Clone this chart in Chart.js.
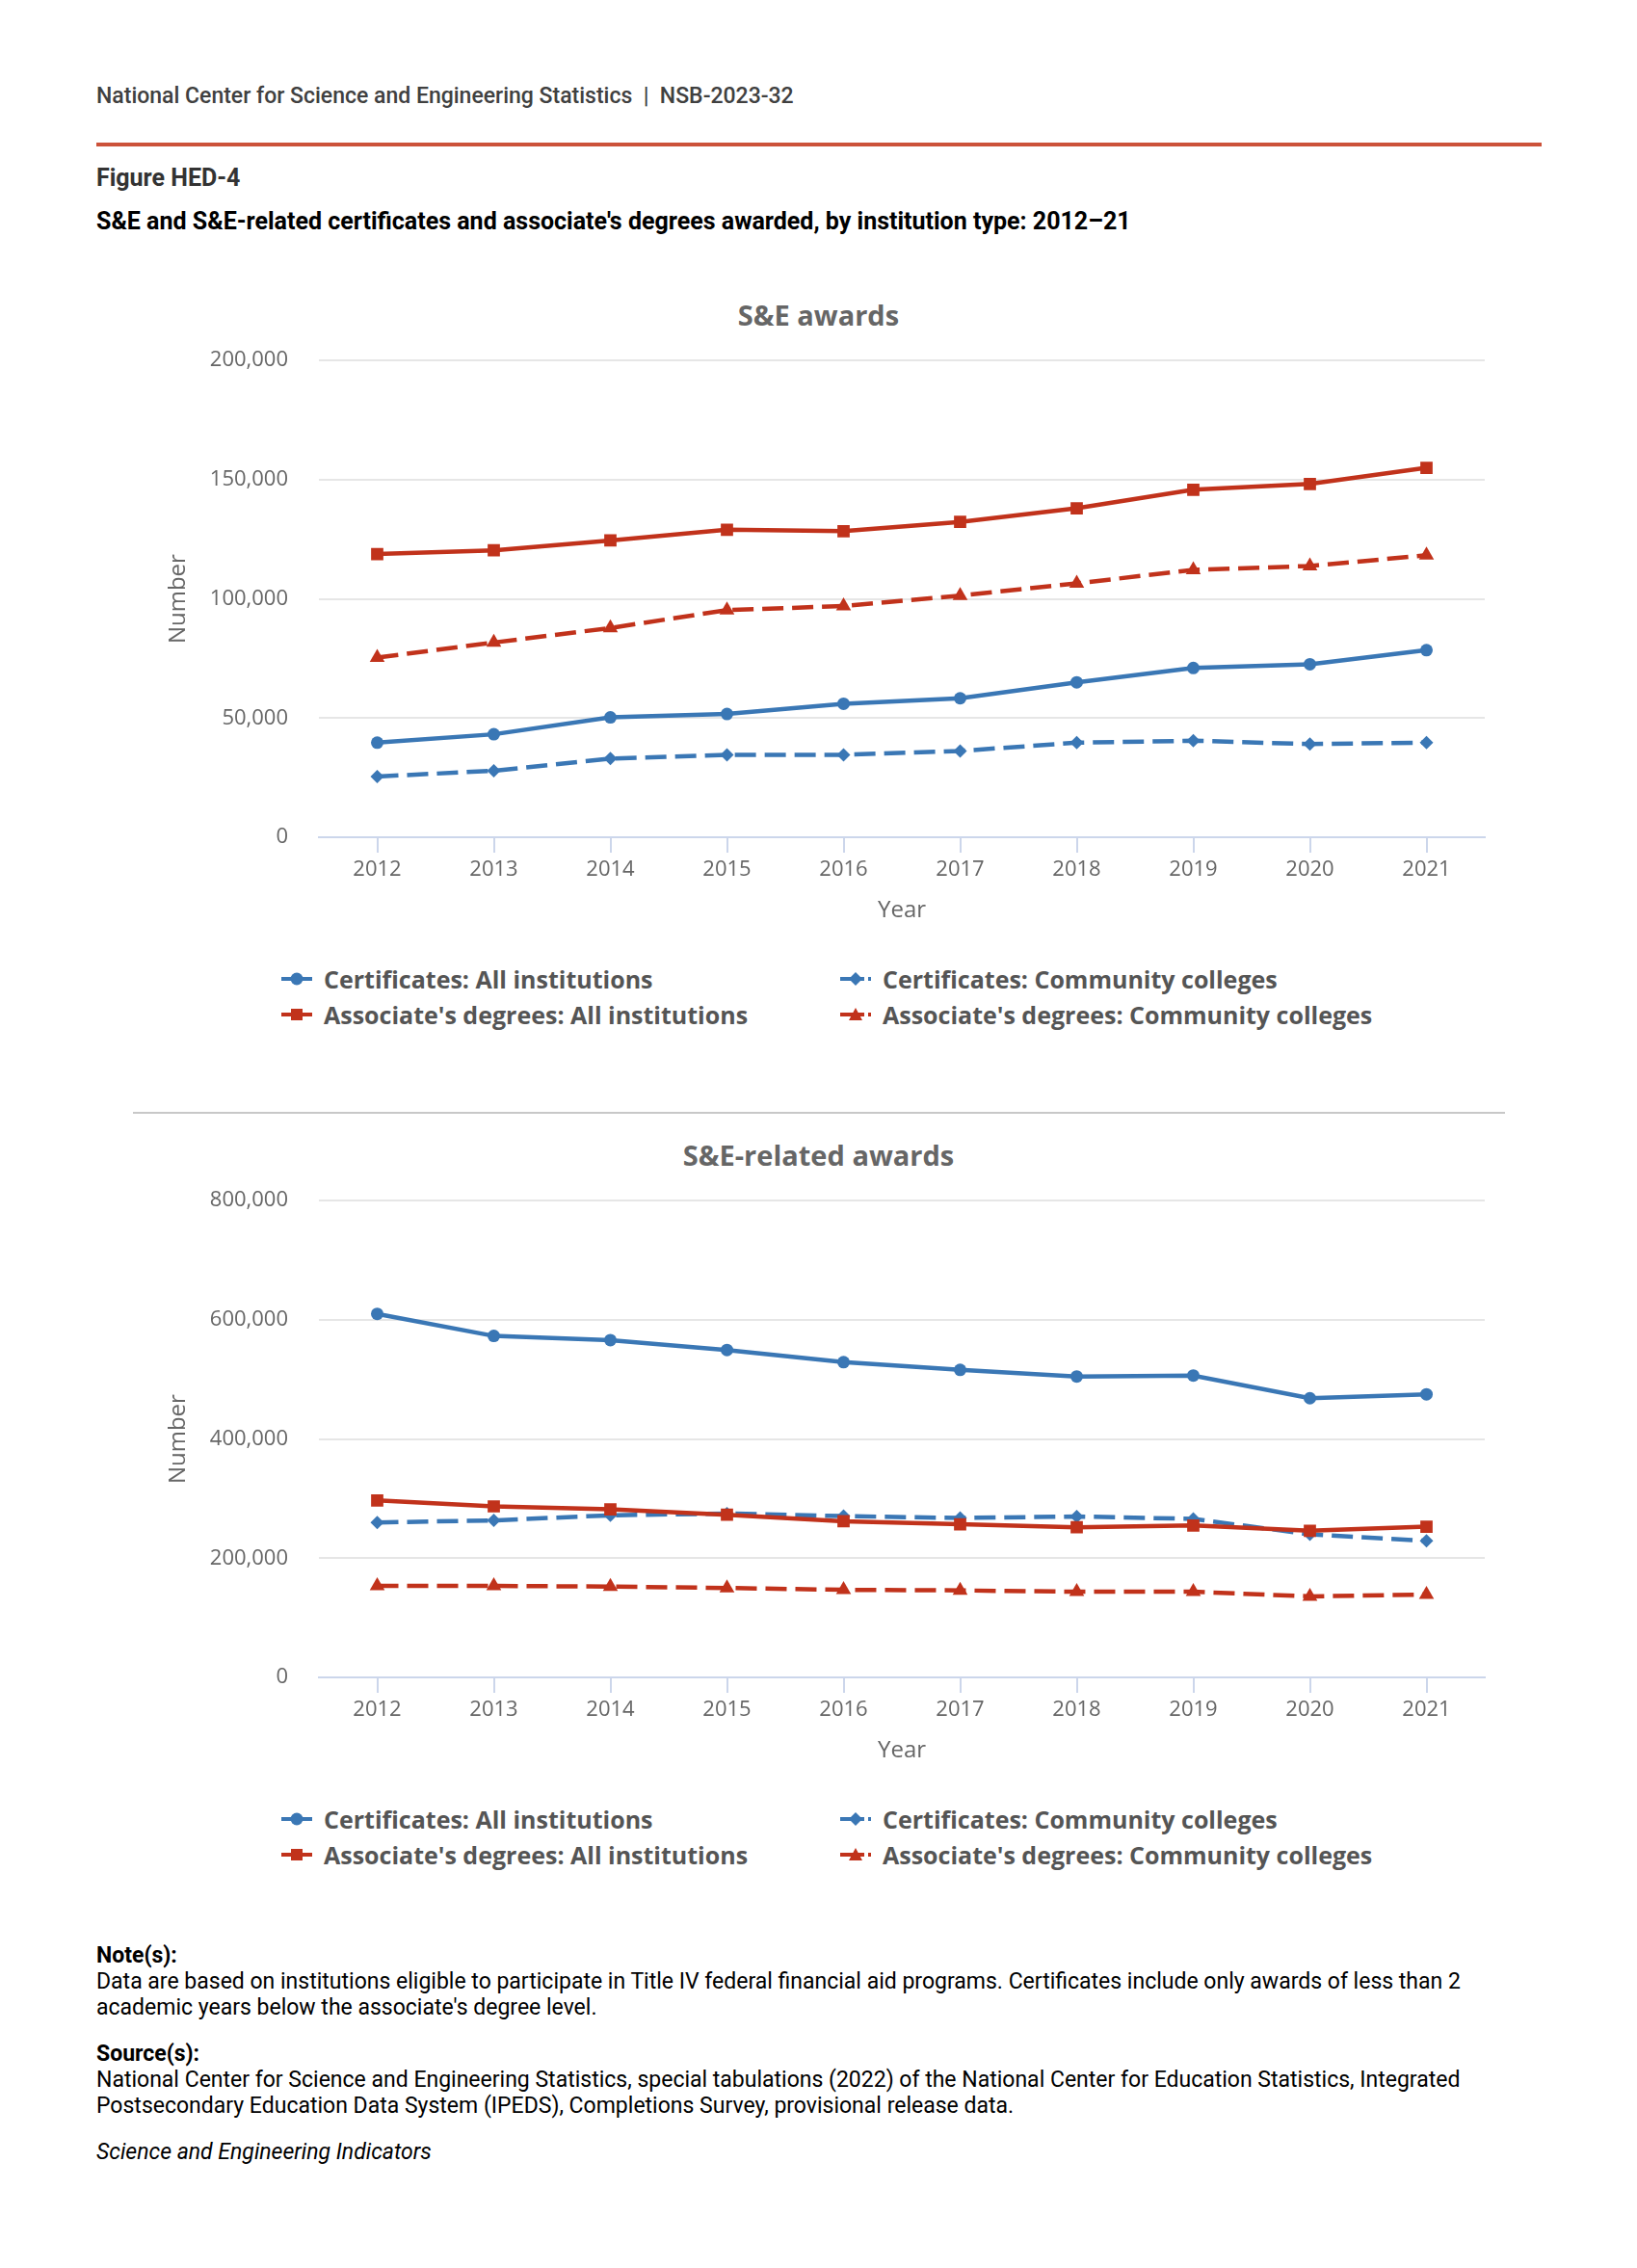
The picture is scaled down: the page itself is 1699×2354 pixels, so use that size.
<!DOCTYPE html>
<html>
<head>
<meta charset="utf-8">
<script src="https://cdn.jsdelivr.net/npm/chart.js@4"></script>
<style>
html,body{margin:0;padding:0;background:#fff;}
body{width:1699px;height:2354px;position:relative;overflow:hidden;font-family:Roboto,"Noto Sans",sans-serif;}
.abs{position:absolute;white-space:nowrap;}
.ctitle{position:absolute;left:0;width:1699px;text-align:center;font-family:"Open Sans",sans-serif;font-weight:bold;font-size:29px;line-height:34px;color:#666;}
.cwrap{position:absolute;left:100px;width:1500px;height:631px;}
.litem{position:absolute;height:30px;display:flex;align-items:center;font-family:"Open Sans",sans-serif;font-weight:bold;font-size:25px;color:#555;white-space:nowrap;}
.litem svg{margin-right:12px;flex:none;}
.notes{position:absolute;left:100px;font-size:23px;line-height:27px;color:#000;white-space:nowrap;}
</style>
</head>
<body>
<div class="abs" style="left:100px;top:86px;font-size:23px;line-height:28px;font-weight:500;color:#404040;">National Center for Science and Engineering Statistics&nbsp; | &nbsp;NSB-2023-32</div>
<div class="abs" style="left:100px;top:148px;width:1500px;height:4px;background:#cc523a;"></div>
<div class="abs" style="left:100px;top:170px;font-size:25px;line-height:30px;font-weight:bold;color:#333;">Figure HED-4</div>
<div class="abs" style="left:100px;top:215px;font-size:25px;line-height:30px;font-weight:bold;color:#000;">S&amp;E and S&amp;E-related certificates and associate's degrees awarded, by institution type: 2012–21</div>

<div class="ctitle" style="top:310px;">S&amp;E awards</div>
<div class="cwrap" style="top:329px;"><canvas id="c1"></canvas></div>
<div id="leg1"></div>

<div class="abs" style="left:138px;top:1154px;width:1424px;height:2px;background:#c8c8c8;"></div>

<div class="ctitle" style="top:1182px;">S&amp;E-related awards</div>
<div class="cwrap" style="top:1201px;"><canvas id="c2"></canvas></div>
<div id="leg2"></div>

<div class="notes" style="top:2016px;">
<b>Note(s):</b><br>
Data are based on institutions eligible to participate in Title IV federal financial aid programs. Certificates include only awards of less than 2<br>
academic years below the associate's degree level.
</div>
<div class="notes" style="top:2118px;">
<b>Source(s):</b><br>
National Center for Science and Engineering Statistics, special tabulations (2022) of the National Center for Education Statistics, Integrated<br>
Postsecondary Education Data System (IPEDS), Completions Survey, provisional release data.
</div>
<div class="notes" style="top:2220px;"><i>Science and Engineering Indicators</i></div>

<script>
// ---- data ----
const years = ['2012','2013','2014','2015','2016','2017','2018','2019','2020','2021'];
const seriesLabels = ['Certificates: All institutions','Certificates: Community colleges',"Associate's degrees: All institutions","Associate's degrees: Community colleges"];

const seCertAll   = [39700, 43200, 50300, 51700, 56000, 58300, 65000, 71000, 72600, 78500];
const seCertCC    = [25500, 27900, 33000, 34600, 34600, 36200, 39700, 40500, 39100, 39700];
const seAssocAll  = [118800, 120400, 124500, 129000, 128400, 132300, 138000, 145800, 148200, 155000];
const seAssocCC   = [75400, 81700, 87800, 95300, 97000, 101400, 106500, 112200, 113800, 118300];

const relCertAll  = [610000, 573000, 566000, 549500, 529000, 516000, 505000, 506600, 468500, 475000];
const relCertCC   = [260000, 263500, 272000, 275000, 270700, 267500, 270000, 266000, 240000, 229000];
const relAssocAll = [297000, 287000, 282000, 273000, 262000, 257000, 252000, 255000, 246000, 253000];
const relAssocCC  = [153500, 153500, 152500, 150000, 147000, 146000, 143700, 143700, 136000, 139000];

const seTicks  = {max: 200000, step: 50000};
const relTicks = {max: 800000, step: 200000};

// ---- styles ----
const BLUE = '#3a77b5', RED = '#c1321b';
const styles = [
  {color: BLUE, dash: [], point: 'circle', r: 6.5},
  {color: BLUE, dash: [22, 9], point: 'rectRot', r: 7},
  {color: RED, dash: [], point: 'rect', r: 9},
  {color: RED, dash: [22, 9], point: 'triangle', r: 9}
];

function makeDatasets(arrs) {
  return arrs.map((d, i) => ({
    label: seriesLabels[i],
    data: d,
    borderColor: styles[i].color,
    backgroundColor: styles[i].color,
    borderWidth: 4.5,
    borderDash: styles[i].dash,
    pointStyle: styles[i].point,
    pointRadius: styles[i].r,
    pointBorderWidth: 0,
    pointBackgroundColor: styles[i].color,
    fill: false,
    tension: 0,
    order: arrs.length - i
  }));
}

function fmt(v) { return v === 0 ? '0' : v.toLocaleString('en-US'); }

function makeChart(id, arrs, tk) {
  return new Chart(document.getElementById(id), {
    type: 'line',
    data: {labels: years, datasets: makeDatasets(arrs)},
    options: {
      responsive: true,
      maintainAspectRatio: false,
      animation: false,
      events: [],
      layout: {padding: {top: 5, right: 59, left: 0, bottom: 0}},
      plugins: {legend: {display: false}, tooltip: {enabled: false}, title: {display: false}},
      scales: {
        x: {
          type: 'category',
          offset: true,
          grid: {display: true, drawOnChartArea: false, drawTicks: true, tickLength: 16, color: '#ccd6eb', lineWidth: 2},
          border: {display: true, color: '#ccd6eb', width: 2},
          ticks: {color: '#666', padding: 5, font: {family: 'Open Sans', size: 22}, maxRotation: 0, autoSkip: false},
          title: {display: true, text: 'Year', color: '#666', padding: 0, font: {family: 'Open Sans', size: 24}},
          afterFit: s => { s.height = 91; }
        },
        y: {
          min: 0, max: tk.max,
          grid: {color: '#e6e6e6', lineWidth: 2, drawTicks: false},
          border: {display: false},
          ticks: {stepSize: tk.step, color: '#666', padding: 32, font: {family: 'Open Sans', size: 22}, callback: v => fmt(v)},
          title: {display: true, text: 'Number', color: '#666', padding: {top: 70.6, bottom: 0}, font: {family: 'Open Sans', size: 24}},
          afterFit: s => { s.width = 231; }
        }
      }
    }
  });
}

function symbolSVG(st) {
  const c = st.color;
  let line;
  if (st.dash.length) {
    line = `<line x1="0" y1="15" x2="25" y2="15" stroke="${c}" stroke-width="4"/><line x1="29" y1="15" x2="32" y2="15" stroke="${c}" stroke-width="4"/>`;
  } else {
    line = `<line x1="0" y1="15" x2="32" y2="15" stroke="${c}" stroke-width="4"/>`;
  }
  let mk = '';
  if (st.point === 'circle') mk = `<circle cx="16" cy="15" r="6.5" fill="${c}"/>`;
  else if (st.point === 'rect') mk = `<rect x="10" y="9" width="12" height="12" fill="${c}"/>`;
  else if (st.point === 'rectRot') mk = `<polygon points="16,8 23,15 16,22 9,15" fill="${c}"/>`;
  else mk = `<polygon points="16,8 23,21 9,21" fill="${c}"/>`;
  return `<svg width="32" height="30" viewBox="0 0 32 30">${line}${mk}</svg>`;
}

function makeLegend(id, rowTop) {
  const el = document.getElementById(id);
  const cols = [292, 872];
  seriesLabels.forEach((lab, i) => {
    const row = Math.floor(i / 2), col = i % 2;
    const d = document.createElement('div');
    d.className = 'litem';
    d.style.left = cols[col] + 'px';
    d.style.top = (rowTop + row * 37) + 'px';
    d.innerHTML = symbolSVG(styles[i]) + '<span></span>';
    d.querySelector('span').textContent = lab;
    el.appendChild(d);
  });
}

Promise.all([
  document.fonts.load('22px "Open Sans"'),
  document.fonts.load('bold 24px "Open Sans"'),
  document.fonts.load('20px Roboto'),
  document.fonts.load('bold 20px Roboto'),
  document.fonts.load('500 20px Roboto')
]).catch(() => {}).then(() => {
  makeChart('c1', [seCertAll, seCertCC, seAssocAll, seAssocCC], seTicks);
  makeChart('c2', [relCertAll, relCertCC, relAssocAll, relAssocCC], relTicks);
  makeLegend('leg1', 1001);
  makeLegend('leg2', 1873);
});
</script>
</body>
</html>
